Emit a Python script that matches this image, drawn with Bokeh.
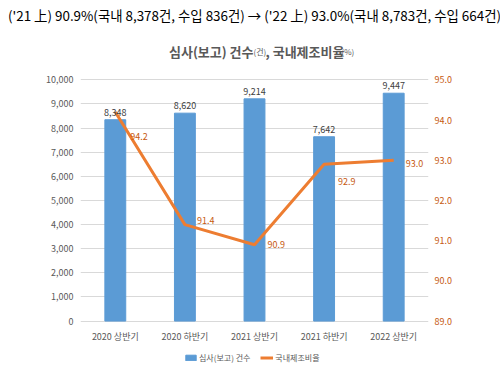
from bokeh.plotting import figure
from bokeh.models import (ColumnDataSource, LinearAxis, Range1d, FixedTicker, Title,
                          NumeralTickFormatter, LabelSet, Label, Legend, LegendItem, FactorRange)
from bokeh.embed import file_html
from bokeh.resources import INLINE
from bokeh.core.properties import value

# ---- data ----
categories = ["2020 상반기", "2020 하반기", "2021 상반기", "2021 하반기", "2022 상반기"]
counts = [8348, 8620, 9214, 7642, 9447]
ratios = [94.2, 91.4, 90.9, 92.9, 93.0]
left_ticks = [0, 1000, 2000, 3000, 4000, 5000, 6000, 7000, 8000, 9000, 10000]
right_ticks = [89, 90, 91, 92, 93, 94, 95]
series_names = ["심사(보고) 건수", "국내제조비율"]
header_text = "('21 上) 90.9%(국내 8,378건, 수입 836건) → ('22 上) 93.0%(국내 8,783건, 수입 664건)"
title_parts = ["심사(보고) 건수", "(건)", ", 국내제조비율", "(%)"]

# label offsets (layout only)
ratio_dx = [15, 12, 13, 14, 12]
ratio_dy = [-24, 4, 0, -17, -3]

# ---- layout constants (pixels) ----
W, H = 500, 369
FRAME_LEFT, FRAME_RIGHT = 80, 428
FRAME_TOP, FRAME_BOTTOM = 22, 369
GRID_TOP, GRID_BOTTOM = 76, 320   # pixel rows of the top and bottom ticks
top_ext = (GRID_BOTTOM - FRAME_TOP) / (GRID_BOTTOM - GRID_TOP)
bot_ext = (FRAME_BOTTOM - GRID_BOTTOM) / (GRID_BOTTOM - GRID_TOP)

FONT = "'Noto Sans CJK KR', sans-serif"
BLUE = "#5B9BD5"
ORANGE = "#ED7D31"
ORANGE_TXT = "#C65911"
GRAY_TXT = "#595959"

lspan = left_ticks[-1] - left_ticks[0]
p = figure(width=W, height=H, x_range=FactorRange(*categories),
           y_range=Range1d(left_ticks[0] - lspan * bot_ext, left_ticks[0] + lspan * top_ext),
           output_backend="svg", toolbar_location=None,
           min_border_left=FRAME_LEFT, min_border_right=W - FRAME_RIGHT,
           min_border_top=FRAME_TOP, min_border_bottom=H - FRAME_BOTTOM)
p.outline_line_color = None
p.background_fill_color = "white"

p.title = Title(text=header_text, align="center", offset=-7, standoff=4,
                text_font=FONT, text_font_size="13.4px", text_font_style="normal",
                text_color="black")

bar_src = ColumnDataSource(dict(x=categories, top=counts,
                                txt=[f"{c:,}" for c in counts]))
bars = p.vbar(x="x", top="top", bottom=0, width=0.3, source=bar_src,
              fill_color=BLUE, line_color=BLUE)

r0 = right_ticks[0]
rspan = right_ticks[-1] - r0
p.extra_y_ranges = {"r": Range1d(r0 - rspan * bot_ext, r0 + rspan * top_ext)}
line_src = ColumnDataSource(dict(x=categories, y=ratios, txt=[f"{r:.1f}" for r in ratios],
                                 dx=ratio_dx, dy=ratio_dy))
ln = p.line(x="x", y="y", source=line_src, y_range_name="r", line_width=3, line_color=ORANGE)

# axes
p.yaxis.ticker = FixedTicker(ticks=left_ticks)
p.yaxis.formatter = NumeralTickFormatter(format="0,0")
raxis = LinearAxis(y_range_name="r", ticker=FixedTicker(ticks=right_ticks),
                   formatter=NumeralTickFormatter(format="0.0"))
p.add_layout(raxis, "right")

for ax in [p.xaxis[0], p.yaxis[0], raxis]:
    ax.axis_line_color = None
    ax.major_tick_line_color = None
    ax.minor_tick_line_color = None
    ax.major_tick_out = 0
    ax.major_tick_in = 0
    ax.major_label_text_font = FONT
    ax.major_label_text_font_size = "9px"
    ax.major_label_text_color = GRAY_TXT
p.yaxis[0].major_label_standoff = 7
raxis.major_label_standoff = 6
raxis.major_label_text_color = ORANGE_TXT
# x labels sit above the frame's bottom edge (the frame runs down to the legend)
p.xaxis[0].major_label_standoff = -40

p.xgrid.grid_line_color = None
p.ygrid.grid_line_color = "#D9D9D9"
p.ygrid.ticker = FixedTicker(ticks=left_ticks)

# data labels
p.add_layout(LabelSet(x="x", y="top", text="txt", source=bar_src, y_offset=4,
                      text_align="center", text_baseline="bottom",
                      text_font=value(FONT), text_font_size="9px", text_color="#404040"))
p.add_layout(LabelSet(x="x", y="y", text="txt", source=line_src, y_range_name="r",
                      x_offset="dx", y_offset="dy", text_align="left", text_baseline="middle",
                      text_font=value(FONT), text_font_size="9px", text_color=ORANGE_TXT))

# chart title (inside the extended frame, screen units from frame bottom-left)
ty = FRAME_BOTTOM - 51
def tlabel(txt, x, size, align, bold):
    return Label(x=x, y=ty, x_units="screen", y_units="screen", text=txt,
                 text_align=align, text_baseline="alphabetic", text_font=FONT,
                 text_font_size=size, text_font_style="bold" if bold else "normal",
                 text_color=GRAY_TXT)
p.add_layout(tlabel(title_parts[0], 173, "13px", "right", True))
p.add_layout(tlabel(title_parts[1], 173, "8px", "left", False))
p.add_layout(tlabel(title_parts[2], 185, "13px", "left", True))
p.add_layout(tlabel(title_parts[3], 261, "8px", "left", False))

legend = Legend(items=[LegendItem(label=series_names[0], renderers=[bars]),
                       LegendItem(label=series_names[1], renderers=[ln])],
                orientation="horizontal", location=(104, 6),
                border_line_color=None, background_fill_alpha=0, padding=0, margin=0,
                spacing=10, glyph_width=13, glyph_height=7, label_standoff=2,
                label_text_font=FONT, label_text_font_size="8px", label_text_color=GRAY_TXT,
                label_height=12)
p.add_layout(legend, "center")

open("out.html", "w").write(file_html(p, INLINE))
